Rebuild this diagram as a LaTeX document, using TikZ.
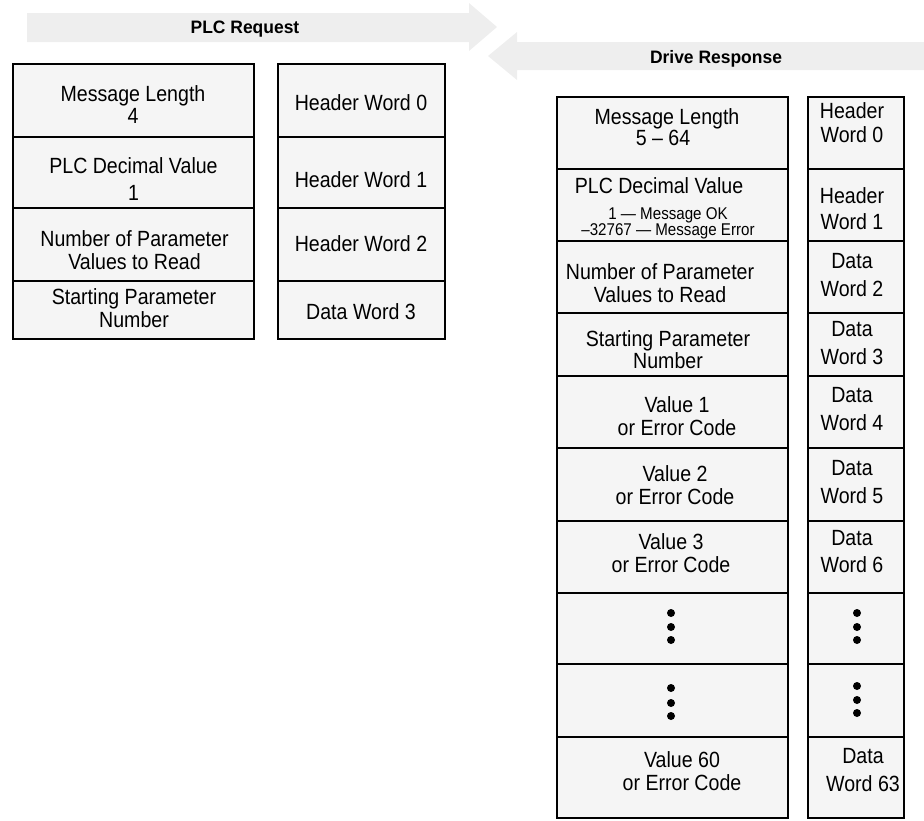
\documentclass[tikz,border=0pt]{standalone}
\usepackage{fontspec}
\setmainfont{Liberation Sans}[FakeStretch=0.89]
\newfontfamily\headfont{Liberation Sans}[FakeStretch=0.97]
\definecolor{arrowgray}{HTML}{EEEEEE}
\definecolor{boxgray}{HTML}{F5F5F5}
\tikzset{
  cell/.style={draw=black, fill=boxgray, line width=2pt, anchor=north west, inner sep=0pt, outer sep=0pt},
  lbl/.style={anchor=base, inner sep=0pt, font=\fontsize{22}{24}\selectfont},
  small/.style={anchor=base, inner sep=0pt, font=\fontsize{17}{18}\selectfont},
  head/.style={anchor=base, inner sep=0pt, font=\headfont\fontsize{18}{20}\selectfont\bfseries},
  banner/.style={fill=arrowgray, draw=none},
  dot/.style={circle, fill=black, inner sep=0pt, minimum size=8pt},
}
\newcommand{\cellat}[5]{\node[cell, minimum width=#3pt, minimum height=#4pt] (#5) at (#1,#2) {};}
\begin{document}
\begin{tikzpicture}[x=1pt,y=-1pt]
\useasboundingbox (0,0) rectangle (924,820);
% banners
\fill[banner] (27,13) -- (469,13) -- (469,3) -- (497,27) -- (469,51) -- (469,42) -- (27,42) -- cycle;
\fill[banner] (488,56) -- (517,32) -- (517,42) -- (924,42) -- (924,70) -- (517,70) -- (517,80) -- cycle;
\node[head] (req) at (245,33) {PLC Request};
\node[head] (resp) at (716,63) {Drive Response};

% left table
\cellat{13}{64}{241}{73}{a1}
\cellat{13}{137}{241}{71}{a2}
\cellat{13}{208}{241}{73}{a3}
\cellat{13}{281}{241}{58}{a4}
\cellat{278}{64}{167}{73}{b1}
\cellat{278}{137}{167}{71}{b2}
\cellat{278}{208}{167}{73}{b3}
\cellat{278}{281}{167}{58}{b4}

\node[lbl] (a1t1) at (133,101) {Message Length};
\node[lbl] (a1t2) at (133,123) {4};
\node[lbl] (a2t1) at (133.5,173) {PLC Decimal Value};
\node[lbl] (a2t2) at (133.5,200) {1};
\node[lbl] (a3t1) at (134.5,246) {Number of Parameter};
\node[lbl] (a3t2) at (134.5,269) {Values to Read};
\node[lbl] (a4t1) at (134,304) {Starting Parameter};
\node[lbl] (a4t2) at (134,327) {Number};

\node[lbl] (b1t) at (361,110) {Header Word 0};
\node[lbl] (b2t) at (361,187) {Header Word 1};
\node[lbl] (b3t) at (361,251) {Header Word 2};
\node[lbl] (b4t) at (361,319) {Data Word 3};

% right table
\cellat{557}{97}{231}{72}{c1}
\cellat{557}{169}{231}{72}{c2}
\cellat{557}{241}{231}{72}{c3}
\cellat{557}{313}{231}{63}{c4}
\cellat{557}{376}{231}{72}{c5}
\cellat{557}{448}{231}{73}{c6}
\cellat{557}{521}{231}{72}{c7}
\cellat{557}{593}{231}{71}{c8}
\cellat{557}{664}{231}{73}{c9}
\cellat{557}{737}{231}{81}{c10}
\cellat{808}{97}{96}{72}{d1}
\cellat{808}{169}{96}{72}{d2}
\cellat{808}{241}{96}{72}{d3}
\cellat{808}{313}{96}{63}{d4}
\cellat{808}{376}{96}{72}{d5}
\cellat{808}{448}{96}{73}{d6}
\cellat{808}{521}{96}{72}{d7}
\cellat{808}{593}{96}{71}{d8}
\cellat{808}{664}{96}{73}{d9}
\cellat{808}{737}{96}{81}{d10}

\node[lbl] (c1t1) at (667,124) {Message Length};
\node[lbl] (c1t2) at (663,145) {5 -- 64};
\node[lbl] (c2t1) at (659,193) {PLC Decimal Value};
\node[small] (c2t2) at (668,219) {1 --- Message OK};
\node[small] (c2t3) at (668,235) {--32767 --- Message Error};
\node[lbl] (c3t1) at (660,279) {Number of Parameter};
\node[lbl] (c3t2) at (660,302) {Values to Read};
\node[lbl] (c4t1) at (668,346) {Starting Parameter};
\node[lbl] (c4t2) at (668,368) {Number};
\node[lbl] (c5t1) at (677,412) {Value 1};
\node[lbl] (c5t2) at (677,435) {or Error Code};
\node[lbl] (c6t1) at (675,481) {Value 2};
\node[lbl] (c6t2) at (675,504) {or Error Code};
\node[lbl] (c7t1) at (671,549) {Value 3};
\node[lbl] (c7t2) at (671,572) {or Error Code};
\node[dot] (c8a) at (671,613) {};
\node[dot] (c8b) at (671,627) {};
\node[dot] (c8c) at (671,640) {};
\node[dot] (c9a) at (671,688) {};
\node[dot] (c9b) at (671,703) {};
\node[dot] (c9c) at (671,716) {};
\node[lbl] (c10t1) at (682,767) {Value 60};
\node[lbl] (c10t2) at (682,790) {or Error Code};

\node[lbl] (d1t1) at (852,118) {Header};
\node[lbl] (d1t2) at (852,142) {Word 0};
\node[lbl] (d2t1) at (852,203) {Header};
\node[lbl] (d2t2) at (852,229) {Word 1};
\node[lbl] (d3t1) at (852,268) {Data};
\node[lbl] (d3t2) at (852,296) {Word 2};
\node[lbl] (d4t1) at (852,336) {Data};
\node[lbl] (d4t2) at (852,364) {Word 3};
\node[lbl] (d5t1) at (852,402) {Data};
\node[lbl] (d5t2) at (852,430) {Word 4};
\node[lbl] (d6t1) at (852,475) {Data};
\node[lbl] (d6t2) at (852,503) {Word 5};
\node[lbl] (d7t1) at (852,545) {Data};
\node[lbl] (d7t2) at (852,572) {Word 6};
\node[dot] (d8a) at (857,613) {};
\node[dot] (d8b) at (857,627) {};
\node[dot] (d8c) at (857,640) {};
\node[dot] (d9a) at (857,686) {};
\node[dot] (d9b) at (857,700) {};
\node[dot] (d9c) at (857,713) {};
\node[lbl] (d10t1) at (863,763) {Data};
\node[lbl] (d10t2) at (863,791) {Word 63};
\end{tikzpicture}
\end{document}
